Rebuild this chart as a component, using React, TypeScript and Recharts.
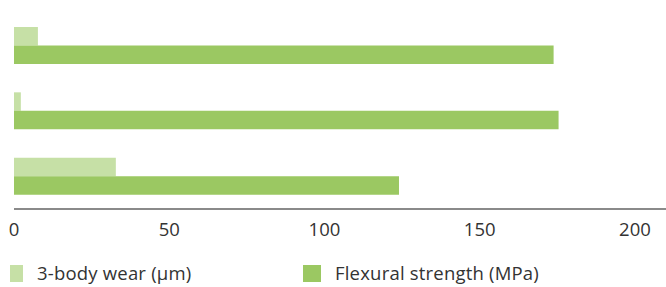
import React from "react";
import { BarChart, Bar, XAxis, YAxis, Legend } from "recharts";

const categories = ["Material A", "Material B", "Material C"];
const wear = [7.7, 2.2, 32.8];
const flexural = [173.8, 175.4, 124];
const xTicks = [0, 50, 100, 150, 200];
const seriesNames = ["3-body wear (µm)", "Flexural strength (MPa)"];

const LIGHT = "#c6e0a6";
const DARK = "#9bc862";
const AXIS = "#8a8a8a";
const TEXT = "#333333";
const FONT = "'Open Sans', 'Noto Sans', sans-serif";

const data = categories.map((c, i) => ({ name: c, wear: wear[i], flexural: flexural[i] }));

const LegendContent = () => (
  <div style={{ position: "relative", height: 20, lineHeight: "20px", fontFamily: FONT, fontSize: 18.5, letterSpacing: 0.2, color: TEXT }}>
    <div style={{ position: "absolute", left: 10, top: 0, height: 20, display: "flex", alignItems: "center" }}>
      <span style={{ display: "inline-block", width: 13, height: 17, background: LIGHT, marginRight: 14 }} />
      <span>{seriesNames[0]}</span>
    </div>
    <div style={{ position: "absolute", left: 303, top: 0, height: 20, display: "flex", alignItems: "center" }}>
      <span style={{ display: "inline-block", width: 18, height: 17, background: DARK, marginRight: 14 }} />
      <span>{seriesNames[1]}</span>
    </div>
  </div>
);

export default function App() {
  return (
    <div style={{ position: "absolute", left: 0, top: 0, width: 666, height: 287, background: "#fff" }}>
      <BarChart
        width={666}
        height={287}
        data={data}
        layout="vertical"
        margin={{ top: 13, right: 0, bottom: 0, left: 14 }}
        barGap={0}
        barSize={18.5}
      >
        <XAxis
          type="number"
          domain={[0, 210]}
          ticks={xTicks}
          tickLine={false}
          axisLine={{ stroke: AXIS, strokeWidth: 2 }}
          tick={{ fill: TEXT, fontSize: 18.5, fontFamily: FONT, dy: 6 }}
          height={58}
          interval={0}
        />
        <YAxis
          type="category"
          dataKey="name"
          width={0}
          tick={false}
          tickLine={false}
          axisLine={{ stroke: AXIS, strokeWidth: 2 }}
        />
        <Legend verticalAlign="bottom" content={<LegendContent />} wrapperStyle={{ left: 0, bottom: 4, width: 666 }} />
        <Bar dataKey="wear" name={seriesNames[0]} fill={LIGHT} isAnimationActive={false} />
        <Bar dataKey="flexural" name={seriesNames[1]} fill={DARK} isAnimationActive={false} />
      </BarChart>
    </div>
  );
}
